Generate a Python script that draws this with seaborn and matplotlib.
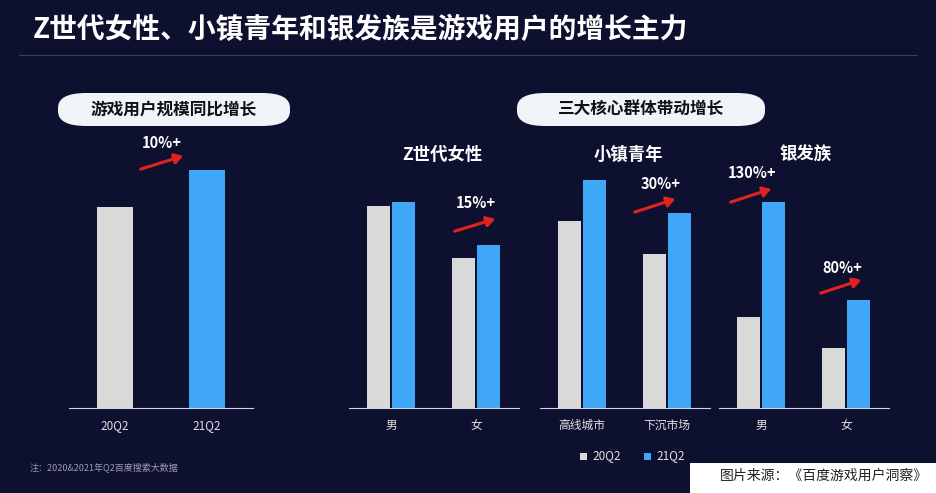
import matplotlib
matplotlib.use("Agg")
import matplotlib.pyplot as plt
import seaborn as sns
import pandas as pd
from matplotlib.patches import FancyBboxPatch, FancyArrowPatch

sns.set_theme(style="white")
plt.rcParams['font.family'] = ['Noto Sans CJK SC', 'DejaVu Sans']

periods = ["20Q2", "21Q2"]
overall = [201, 238]
z_cats = ["男", "女"]
z_20 = [202, 150]
z_21 = [206, 163]
town_cats = ["高线城市", "下沉市场"]
town_20 = [187, 154]
town_21 = [228, 195]
silver_cats = ["男", "女"]
silver_20 = [91, 60]
silver_21 = [206, 108]

GRAY, BLUE = "#d9d9d9", "#3fa7f5"
BG = "#0e1030"
W, H = 936, 493
fig = plt.figure(figsize=(W/100, H/100), dpi=100, facecolor=BG)

def ax_px(left, width, bottom=408, top=150):
    a = fig.add_axes([left/W, 1-bottom/H, width/W, (bottom-top)/H])
    a.set_facecolor("none")
    return a

def style(a):
    a.set_ylim(0, 258)
    a.set_xlim(-0.5, 1.5)
    a.set_yticks([])
    a.set_xlabel(""); a.set_ylabel("")
    for s in ["top", "right", "left"]:
        a.spines[s].set_visible(False)
    a.spines["bottom"].set_color("#cfd3e0"); a.spines["bottom"].set_linewidth(0.8)
    a.tick_params(axis="x", colors="#e0e0e0", labelsize=8.5, length=0, pad=8)
    if a.get_legend(): a.get_legend().remove()

# left panel
a0 = ax_px(69, 184)
d0 = pd.DataFrame({"p": periods, "v": overall})
sns.barplot(data=d0, x="p", y="v", hue="p", palette=[GRAY, BLUE], width=0.39, dodge=False,
            saturation=1, linewidth=0, ax=a0)
style(a0)

def grouped(left, cats, v20, v21):
    a = ax_px(left, 170)
    d = pd.DataFrame({"c": cats*2, "s": ["20Q2"]*2 + ["21Q2"]*2, "v": v20 + v21})
    sns.barplot(data=d, x="c", y="v", hue="s", palette=[GRAY, BLUE], width=0.6, gap=0.1,
                saturation=1, linewidth=0, ax=a)
    style(a)
    return a
grouped(348.5, z_cats, z_20, z_21)
grouped(539.5, town_cats, town_20, town_21)
grouped(718.5, silver_cats, silver_20, silver_21)

# title
fig.text(0.035, 1-30/H, "Z世代女性、小镇青年和银发族是游戏用户的增长主力", color="white",
         fontsize=20, fontweight="bold", va="center")
fig.add_artist(plt.Line2D([0.02, 0.98], [1-55/H, 1-55/H], color="#3a3d5c", lw=0.8))

def pill(x0, x1, y0, y1, txt):
    p = FancyBboxPatch((x0/W, 1-y1/H), (x1-x0)/W, (y1-y0)/H,
                       boxstyle="round,pad=0,rounding_size=0.03", transform=fig.transFigure,
                       fc="#eef4f8", ec="none")
    fig.add_artist(p)
    fig.text((x0+x1)/2/W, 1-(y0+y1)/2/H, txt, ha="center", va="center",
             color="#111", fontsize=12, fontweight="bold")
pill(58, 290, 93, 126, "游戏用户规模同比增长")
pill(517, 765, 93, 126, "三大核心群体带动增长")

for x, t in [(442, "Z世代女性"), (628, "小镇青年"), (806, "银发族")]:
    fig.text(x/W, 1-155/H, t, ha="center", va="center", color="white", fontsize=12.5, fontweight="bold")

def arrow(x0, y0, x1, y1, tx, ty, t):
    fig.add_artist(FancyArrowPatch((x0/W, 1-y0/H), (x1/W, 1-y1/H), transform=fig.transFigure,
                   arrowstyle="-|>,head_length=5,head_width=3", color="#e0231f", lw=2.2))
    fig.text(tx/W, 1-ty/H, t, ha="center", va="center", color="white", fontsize=10.5, fontweight="bold")
arrow(138, 170, 186, 155, 162, 143, "10%+")
arrow(452, 232, 498, 218, 476, 203, "15%+")
arrow(632, 213, 678, 198, 661, 184, "30%+")
arrow(728, 203, 774, 188, 752, 173, "130%+")
arrow(818, 294, 864, 279, 842, 268, "80%+")

# legend
for x, c, t in [(580, GRAY, "20Q2"), (644, BLUE, "21Q2")]:
    fig.add_artist(plt.Rectangle((x/W, 1-460/H), 7/W, 7/H, transform=fig.transFigure, fc=c, ec="none"))
    fig.text((x+12)/W, 1-456/H, t, color="#e0e0e0", fontsize=8.5, va="center")

fig.text(30/W, 1-467/H, "注：2020&2021年Q2百度搜索大数据", color="#9a9cb0", fontsize=6.5, va="center")
fig.add_artist(plt.Rectangle((690/W, 0), 246/W, 30/H, transform=fig.transFigure, fc="white", ec="none"))
fig.text(928/W, 1-476/H, "图片来源：《百度游戏用户洞察》", color="#222", fontsize=10, ha="right", va="center")

fig.savefig("out.png", dpi=100, facecolor=BG)
